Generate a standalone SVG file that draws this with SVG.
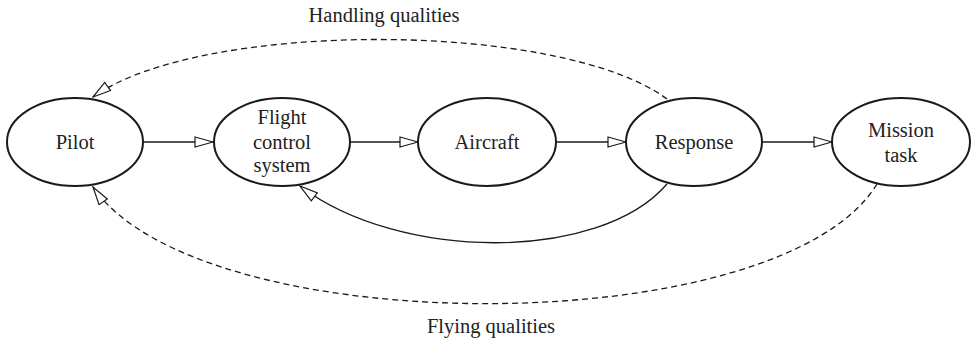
<svg xmlns="http://www.w3.org/2000/svg" width="973" height="343" viewBox="0 0 973 343">
<style>
.node ellipse{fill:#fff;stroke:#1a1a1a;stroke-width:2}
text{font-family:"Liberation Serif","Times New Roman",serif;font-size:20.5px;fill:#222;text-anchor:middle}
.c{fill:none;stroke:#1a1a1a;stroke-width:1.3}
.d{stroke-dasharray:6 4}
</style>
<defs>
<marker id="ah" markerUnits="userSpaceOnUse" markerWidth="20" markerHeight="12" refX="19" refY="6" orient="auto" viewBox="0 0 20 12">
<path d="M1,1 L19,6 L1,11 Z" fill="#fff" stroke="#1a1a1a" stroke-width="1.2"/>
</marker>
</defs>
<g id="connectors">
<line class="c" x1="144" y1="142" x2="213" y2="142" marker-end="url(#ah)"/>
<line class="c" x1="350" y1="142" x2="418" y2="142" marker-end="url(#ah)"/>
<line class="c" x1="557" y1="142" x2="626" y2="142" marker-end="url(#ah)"/>
<line class="c" x1="763" y1="142" x2="832" y2="142" marker-end="url(#ah)"/>
<path class="c" d="M667,184 C600,262 400,262 300,186" marker-end="url(#ah)"/>
<path class="c d" d="M667,99 C560,20 200,20 93,97" marker-end="url(#ah)"/>
<path class="c d" d="M877,184 C780,343 200,343 93,187" marker-end="url(#ah)"/>
</g>
<g font-family="Liberation Serif, Times New Roman, serif">
<g id="pilot" class="node"><ellipse cx="75" cy="142" rx="68" ry="44"/><text x="75" y="149">Pilot</text></g>
<g id="fcs" class="node"><ellipse cx="282" cy="142" rx="68" ry="44"/><text x="282" y="124">Flight</text><text x="282" y="149">control</text><text x="282" y="172">system</text></g>
<g id="aircraft" class="node"><ellipse cx="487" cy="142" rx="69" ry="44"/><text x="487" y="149">Aircraft</text></g>
<g id="response" class="node"><ellipse cx="694" cy="142" rx="68" ry="44"/><text x="694" y="149">Response</text></g>
<g id="mission" class="node"><ellipse cx="901" cy="142" rx="69" ry="44"/><text x="901" y="137">Mission</text><text x="901" y="162">task</text></g>
<g id="labels"><text x="384" y="22">Handling qualities</text><text x="491" y="333">Flying qualities</text></g>
</g>
</svg>
